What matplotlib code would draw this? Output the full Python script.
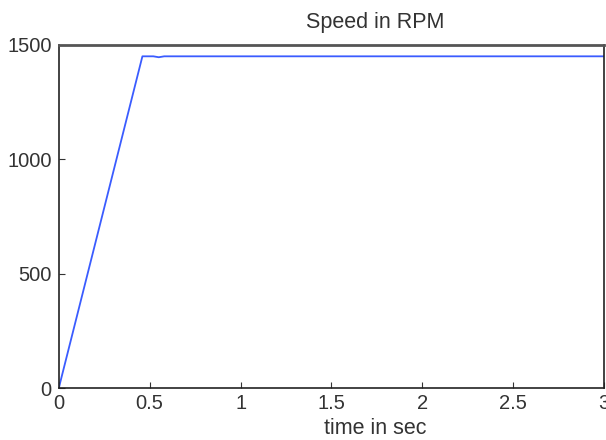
import matplotlib.pyplot as plt

plt.rcParams['font.family'] = ['Liberation Sans', 'DejaVu Sans']

tempo = [0, 0.46, 0.52, 0.55, 0.58, 3.0]
velocidade = [0, 1450, 1450, 1446, 1450, 1450]

xticks = [0, 0.5, 1, 1.5, 2, 2.5, 3]
yticks = [0, 500, 1000, 1500]

fig = plt.figure(figsize=(6.06, 4.4), dpi=100)
ax = fig.add_axes([0.097, 0.118, 0.9, 0.78])
ax.plot(tempo, velocidade, color='#3a5cff', linewidth=1.3)
ax.set_xlim(0, 3)
ax.set_ylim(0, 1500)
ax.set_xticks(xticks)
ax.set_xticklabels(['0', '0.5', '1', '1.5', '2', '2.5', '3'])
ax.set_yticks(yticks)
ax.tick_params(direction='in', labelsize=14.5, colors='#333333', length=4)
ax.tick_params(axis='x', pad=4)
ax.tick_params(axis='y', pad=5)
for s in ['left', 'right', 'bottom']:
    ax.spines[s].set_color('#222222')
    ax.spines[s].set_linewidth(1.2)
ax.spines['top'].set_color('#555555')
ax.spines['top'].set_linewidth(2)
ax.set_xlabel('time in sec', fontsize=15.5, color='#333333', labelpad=4, x=0.58)
ax.set_title('Speed in RPM', fontsize=15.5, color='#333333', pad=12, x=0.58)

plt.savefig('out.png', dpi=100)
